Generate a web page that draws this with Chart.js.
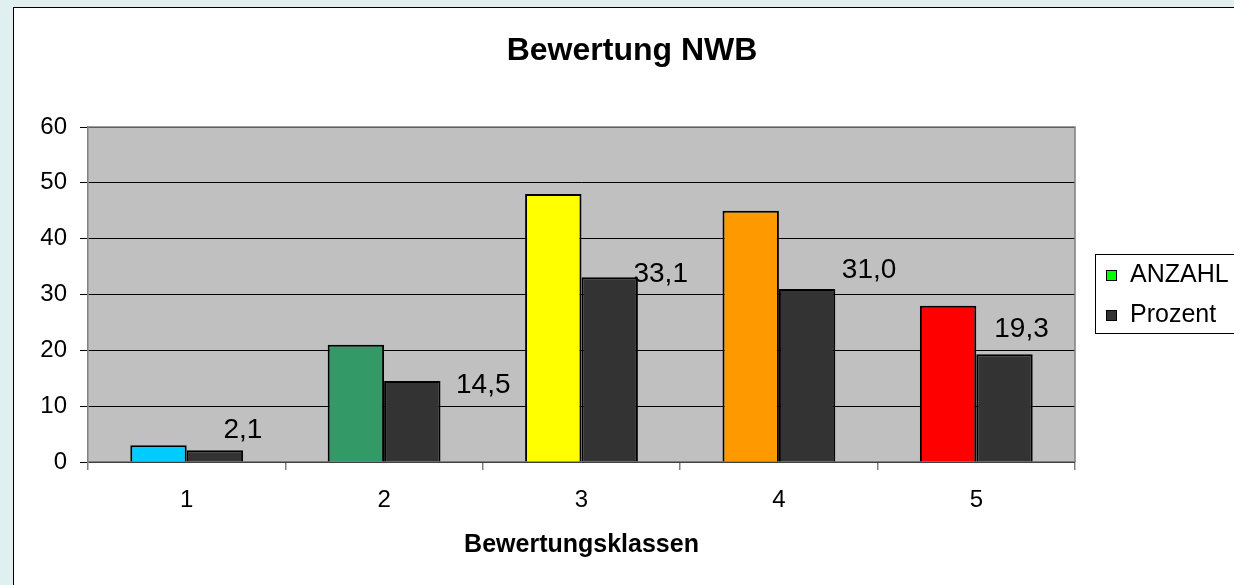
<!DOCTYPE html>
<html>
<head>
<meta charset="utf-8">
<script src="https://cdn.jsdelivr.net/npm/chart.js@4/dist/chart.umd.min.js"></script>
<style>
html, body { margin: 0; padding: 0; background: #e0f0f0; }
#wrap { width: 1234px; height: 585px; }
</style>
</head>
<body>
<div id="wrap"><canvas id="chartCanvas" width="1234" height="585"></canvas></div>
<script>
(() => {
'use strict';

const categories = ['1', '2', '3', '4', '5'];
const anzahl = [3, 21, 48, 45, 28];
const prozent = [2.1, 14.5, 33.1, 31.0, 19.3];
const yMin = 0, yMax = 60, yStep = 10;
const barColors = ['#00ccff', '#339966', '#ffff00', '#ff9900', '#ff0000'];
const chartTitle = 'Bewertung NWB';

const FONT = "'Liberation Sans', Arial, sans-serif";

// frame, title + grey plot area
const framePlugin = {
    id: 'frame',
    beforeDraw(chart) {
        const { ctx, chartArea: a } = chart;
        ctx.save();
        ctx.fillStyle = '#e0f0f0';
        ctx.fillRect(0, 0, chart.width, chart.height);
        ctx.fillStyle = '#ffffff';
        ctx.fillRect(13, 7, chart.width, chart.height);
        ctx.strokeStyle = '#000000';
        ctx.lineWidth = 1;
        ctx.strokeRect(13.5, 7.5, chart.width + 10, chart.height + 10);
        ctx.fillStyle = '#c0c0c0';
        ctx.fillRect(a.left, a.top, a.right - a.left, a.bottom - a.top);
        // title, centred on the whole frame like Excel does
        ctx.fillStyle = '#000';
        ctx.font = 'bold 32px ' + FONT;
        ctx.textAlign = 'center';
        ctx.textBaseline = 'alphabetic';
        ctx.fillText(chartTitle, 632, 60);
        ctx.restore();
    },
    beforeDatasetsDraw(chart) {
        const { ctx, chartArea: a } = chart;
        ctx.save();
        ctx.strokeStyle = '#808080';
        ctx.lineWidth = 1.5;
        ctx.beginPath();
        ctx.moveTo(a.left, a.top);
        ctx.lineTo(a.right, a.top);
        ctx.lineTo(a.right, a.bottom);
        ctx.stroke();
        ctx.restore();
    }
};

// value labels for the Prozent series (Excel left them a bit off the bars)
const labelPlugin = {
    id: 'valLabels',
    afterDatasetsDraw(chart, args, opts) {
        const { ctx } = chart;
        const meta = chart.getDatasetMeta(1);
        ctx.save();
        ctx.font = '28px ' + FONT;
        ctx.fillStyle = '#000';
        ctx.textAlign = 'center';
        ctx.textBaseline = 'alphabetic';
        meta.data.forEach((bar, i) => {
            const off = opts.offsets[i] || [0, -8];
            const txt = prozent[i].toFixed(1).replace('.', ',');
            ctx.fillText(txt, bar.x + off[0], bar.y + off[1]);
        });
        ctx.restore();
    }
};

// boxed legend on the right
const legendPlugin = {
    id: 'boxLegend',
    afterDraw(chart) {
        const { ctx } = chart;
        const items = [
            { text: 'ANZAHL', color: '#00ff00' },
            { text: 'Prozent', color: '#333333' }
        ];
        ctx.save();
        ctx.fillStyle = '#fff';
        ctx.fillRect(1095, 254, 150, 79);
        ctx.strokeStyle = '#000';
        ctx.lineWidth = 1;
        ctx.strokeRect(1095.5, 254.5, 150, 79);
        ctx.font = '25px ' + FONT;
        ctx.textBaseline = 'alphabetic';
        items.forEach((it, i) => {
            const base = 282 + i * 40;
            ctx.fillStyle = it.color;
            ctx.fillRect(1106, base - 12, 10, 10);
            ctx.strokeRect(1106.5, base - 11.5, 10, 10);
            ctx.fillStyle = '#000';
            ctx.fillText(it.text, 1130, base);
        });
        ctx.restore();
    }
};

new Chart(document.getElementById('chartCanvas').getContext('2d'), {
    type: 'bar',
    data: {
        labels: categories,
        datasets: [{
            label: 'ANZAHL',
            data: anzahl,
            backgroundColor: barColors,
            borderColor: '#000',
            borderWidth: 2,
            categoryPercentage: 2 / 3.5,
            barPercentage: 1
        }, {
            label: 'Prozent',
            data: prozent,
            backgroundColor: '#333333',
            borderColor: '#000',
            borderWidth: 2,
            categoryPercentage: 2 / 3.5,
            barPercentage: 1
        }]
    },
    options: {
        responsive: false,
        animation: false,
        devicePixelRatio: 1,
        layout: { padding: { left: 20, right: 159, top: 127, bottom: 25 } },
        plugins: {
            legend: { display: false },
            tooltip: { enabled: false },
            title: { display: false },
            valLabels: {
                offsets: [[28, -12], [71, 12], [51, 5], [62, -11], [17, -17]]
            }
        },
        scales: {
            x: {
                grid: { offset: true, drawOnChartArea: false, drawTicks: true, tickLength: 8, color: '#808080', lineWidth: 1.5 },
                border: { color: '#808080', width: 1.5 },
                ticks: { color: '#000', font: { family: FONT, size: 24 }, padding: 16 },
                title: {
                    display: true,
                    text: 'Bewertungsklassen',
                    color: '#000',
                    font: { family: FONT, size: 25, weight: 'bold' },
                    padding: 0
                },
                afterFit: s => { s.height = 98; }
            },
            y: {
                min: yMin,
                max: yMax,
                grid: { color: '#000', lineWidth: 1, tickLength: 8 },
                border: { color: '#808080', width: 1.5 },
                ticks: { stepSize: yStep, color: '#000', font: { family: FONT, size: 24 }, padding: 13 },
                afterFit: s => { s.width = 68; }
            }
        }
    },
    plugins: [framePlugin, labelPlugin, legendPlugin]
});
})();
</script>
</body>
</html>
